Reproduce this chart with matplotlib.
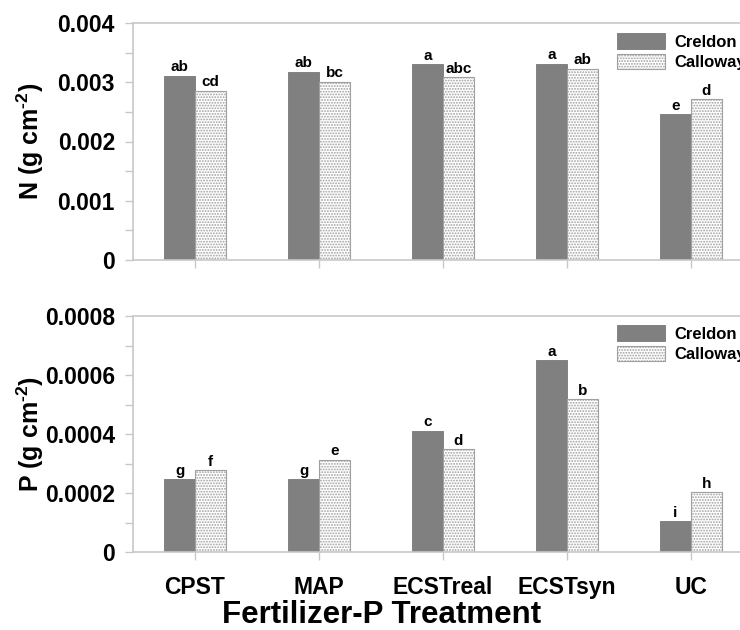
import numpy as np
import matplotlib
matplotlib.use("Agg")
import matplotlib.pyplot as plt

plt.rcParams['font.family'] = ['Liberation Sans', 'DejaVu Sans']
plt.rcParams['font.weight'] = 'bold'
plt.rcParams['hatch.linewidth'] = 0.9
plt.rcParams['mathtext.fontset'] = 'custom'
plt.rcParams['mathtext.rm'] = 'Liberation Sans:bold'
plt.rcParams['mathtext.it'] = 'Liberation Sans:bold'
plt.rcParams['mathtext.bf'] = 'Liberation Sans:bold'

treatments = ['CPST', 'MAP', 'ECSTreal', 'ECSTsyn', 'UC']
soils = ['Creldon', 'Calloway']

n_creldon = [0.00311, 0.00318, 0.00330, 0.00331, 0.00246]
n_calloway = [0.00286, 0.00301, 0.00309, 0.00323, 0.00271]
n_letters_creldon = ['ab', 'ab', 'a', 'a', 'e']
n_letters_calloway = ['cd', 'bc', 'abc', 'ab', 'd']

p_creldon = [0.000247, 0.000248, 0.000412, 0.000651, 0.000106]
p_calloway = [0.000279, 0.000313, 0.000349, 0.000518, 0.000204]
p_letters_creldon = ['g', 'g', 'c', 'a', 'i']
p_letters_calloway = ['f', 'e', 'd', 'b', 'h']

W, H = 740, 630
fig = plt.figure(figsize=(W / 100, H / 100), dpi=100)

# axes boxes from pixel positions in the reference
ax1 = fig.add_axes([133 / W, 1 - 260 / H, 620 / W, 237 / H])
ax2 = fig.add_axes([133 / W, 1 - 552.3 / H, 620 / W, 236.3 / H])

x = np.arange(len(treatments))
bw = 0.25
spine_col = '#c8c8c8'


def panel(ax, cr, ca, lc, la, ymax, step, fmt, ylabel, leg_top):
    b1 = ax.bar(x - bw / 2, cr, bw, color='#808080', edgecolor='#787878',
                linewidth=0.6, label=soils[0])
    b2 = ax.bar(x + bw / 2, ca, bw, color='white', edgecolor='#a0a0a0',
                hatch='......', linewidth=0.8, label=soils[1])
    for bars, labs in ((b1, lc), (b2, la)):
        for r, t in zip(bars, labs):
            ax.annotate(t, (r.get_x() + r.get_width() / 2, r.get_height()),
                        xytext=(0, 1), textcoords='offset points',
                        ha='center', va='bottom', fontsize=11,
                        fontweight='bold')
    ax.set_xlim(-0.5, 4.5)
    ax.set_ylim(0, ymax)
    ax.set_yticks(np.arange(0, ymax + step / 2, step))
    ax.set_yticks(np.arange(step / 2, ymax, step), minor=True)
    ax.set_yticklabels(['0'] + [fmt % v for v in np.arange(step, ymax + step / 2, step)])
    ax.set_xticks(x)
    ax.tick_params(axis='y', which='both', direction='out', length=6,
                   width=1, color=spine_col, labelsize=16.5, pad=7)
    ax.tick_params(axis='x', direction='out', length=6, width=1,
                   color=spine_col, labelsize=16.5, pad=11)
    for s in ['left', 'top', 'bottom']:
        ax.spines[s].set_color(spine_col)
        ax.spines[s].set_linewidth(1.2)
    ax.spines['right'].set_visible(False)
    ax.set_ylabel(ylabel, fontsize=18, fontweight='bold')
    ax.yaxis.set_label_coords(-0.140, 0.5)
    ax.legend(loc='upper left', bbox_to_anchor=(617 / W, 1 - leg_top / H),
              bbox_transform=fig.transFigure, frameon=False,
              handlelength=2.9, handleheight=1.08, labelspacing=0.24,
              handletextpad=0.55, borderpad=0, borderaxespad=0,
              prop={'weight': 'bold', 'size': 12})


panel(ax1, n_creldon, n_calloway, n_letters_creldon, n_letters_calloway,
      0.004, 0.001, '%.3f', r'N (g cm$^{\text{-2}}$)', 33)
panel(ax2, p_creldon, p_calloway, p_letters_creldon, p_letters_calloway,
      0.0008, 0.0002, '%.4f', r'P (g cm$^{\text{-2}}$)', 325)

ax1.set_xticklabels([])
ax2.set_xticklabels(treatments)
ax2.set_xlabel('Fertilizer-P Treatment', fontsize=22.5, fontweight='bold')
ax2.xaxis.set_label_coords(0.4016, -0.202)

fig.savefig('out.png', dpi=100)
